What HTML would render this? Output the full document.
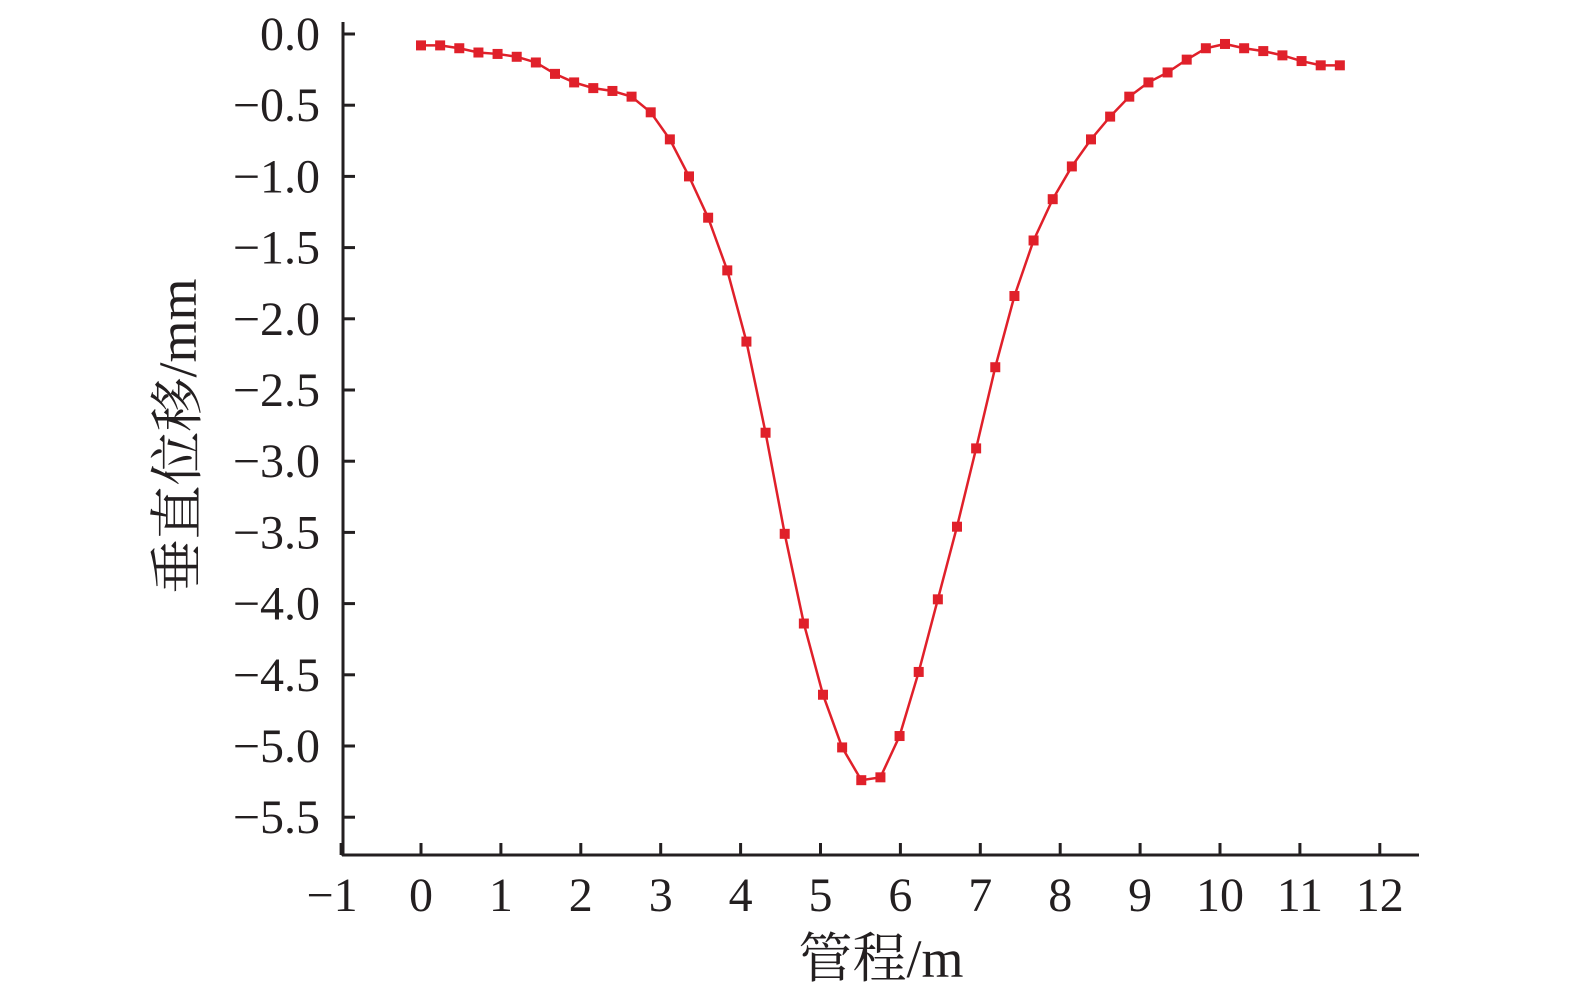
<!DOCTYPE html>
<html><head><meta charset="utf-8"><style>
body{margin:0;background:#fff}
text{font-family:"Liberation Serif","Noto Serif CJK SC",serif;fill:#231f20}
</style></head><body>
<svg id="chart" width="1575" height="1002" xmlns="http://www.w3.org/2000/svg">
<g id="axes"></g>
<g id="series"></g>
<text x="881" y="977" font-size="54" text-anchor="middle">管程/m</text>
<text transform="translate(196,436) rotate(-90)" font-size="54" text-anchor="middle">垂直位移/mm</text>
</svg>
<script>
const xTicks=[-1,0,1,2,3,4,5,6,7,8,9,10,11,12];
const yTicks=[0,-0.5,-1,-1.5,-2,-2.5,-3,-3.5,-4,-4.5,-5,-5.5];
const yTickLabels=["0.0","\u22120.5","\u22121.0","\u22121.5","\u22122.0","\u22122.5","\u22123.0","\u22123.5","\u22124.0","\u22124.5","\u22125.0","\u22125.5"];
const xStart=0, xEnd=11.5;
const values=[-0.08,-0.08,-0.10,-0.13,-0.14,-0.16,-0.20,-0.28,-0.34,-0.38,-0.40,-0.44,-0.55,-0.74,-1.00,-1.29,-1.66,-2.16,-2.80,-3.51,-4.14,-4.64,-5.01,-5.24,-5.22,-4.93,-4.48,-3.97,-3.46,-2.91,-2.34,-1.84,-1.45,-1.16,-0.93,-0.74,-0.58,-0.44,-0.34,-0.27,-0.18,-0.10,-0.07,-0.10,-0.12,-0.15,-0.19,-0.22,-0.22];
const NS="http://www.w3.org/2000/svg";
const X=v=>421+v*79.9, Y=v=>34-v*142.4;
const ax=document.getElementById('axes'), sg=document.getElementById('series');
function mk(tag,attrs,parent){const e=document.createElementNS(NS,tag);for(const k in attrs)e.setAttribute(k,attrs[k]);parent.appendChild(e);return e;}
let l=mk('line',{x1:343,y1:22,x2:343,y2:856,stroke:'#231f20','stroke-width':3},ax);


l=mk('line',{x1:342,y1:855,x2:1419,y2:855,stroke:'#231f20','stroke-width':3},ax);


xTicks.forEach(v=>{
 const t=mk('line',{x1:X(v),y1:855,x2:X(v),y2:843,stroke:'#231f20','stroke-width':3},ax);
 
 
 const tx=mk('text',{x:X(v)-(v<0?9:0),y:911,'font-size':48,'text-anchor':'middle'},ax);
 tx.textContent=v<0?'\u2212'+(-v):String(v);
 
 
});
yTicks.forEach((v,i)=>{
 const t=mk('line',{x1:343,y1:Y(v),x2:355,y2:Y(v),stroke:'#231f20','stroke-width':3},ax);
 
 
 const tx=mk('text',{x:320,y:Y(v)+16,'font-size':48,'text-anchor':'end'},ax);
 tx.textContent=yTickLabels[i];
 
 
});
const step=(xEnd-xStart)/(values.length-1);
const pts=values.map((v,i)=>[X(xStart+i*step),Y(v)]);
const pl=mk('polyline',{points:pts.map(p=>p.join(',')).join(' '),fill:'none',stroke:'#e0202a','stroke-width':2.5},sg);


pts.forEach(p=>{
 const r=mk('rect',{x:p[0]-5,y:p[1]-5,width:10,height:10,fill:'#e0202a'},sg);
 
 
});
</script>
</body></html>
